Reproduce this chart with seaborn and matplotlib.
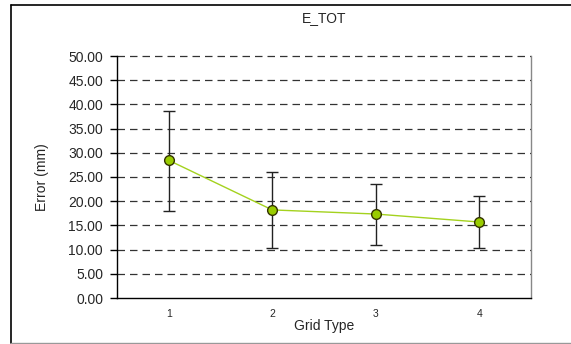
import matplotlib
matplotlib.use("Agg")
import matplotlib.pyplot as plt
from matplotlib.lines import Line2D
import seaborn as sns
import pandas as pd

grid_type = [1, 2, 3, 4]
error_mean = [28.45, 18.2, 17.35, 15.7]
error_upper = [38.7, 26.0, 23.55, 21.0]
error_lower = [18.0, 10.3, 10.95, 10.3]
y_ticks = [0, 5, 10, 15, 20, 25, 30, 35, 40, 45, 50]

df = pd.DataFrame({"Grid Type": grid_type, "Error": error_mean})
yerr = [[m - l for m, l in zip(error_mean, error_lower)],
        [u - m for m, u in zip(error_mean, error_upper)]]

sns.set_theme(style="white")
plt.rcParams['font.family'] = ['Liberation Sans', 'DejaVu Sans']

W, H = 571, 344
fig = plt.figure(figsize=(W / 100, H / 100), dpi=100)
ax = fig.add_axes([117 / W, 1 - 298 / H, (531 - 117) / W, (298 - 56) / H])

for y in y_ticks[1:]:
    ax.axhline(y, color="#333333", lw=0.9, ls=(0, (6, 4)), zorder=1, clip_on=False)

ax.errorbar(df["Grid Type"], df["Error"], yerr=yerr, fmt="none",
            ecolor="#222222", elinewidth=1, capsize=4, capthick=1, zorder=2)
sns.lineplot(data=df, x="Grid Type", y="Error", ax=ax, color="#A4D21E",
             lw=1, marker="o", markersize=7, markerfacecolor="#99CC00",
             markeredgecolor="#333300", markeredgewidth=1, zorder=3)

ax.set_xlim(0.5, 4.5)
ax.set_ylim(0, 50)
ax.set_yticks(y_ticks)
ax.set_yticklabels([f"{v:.2f}" for v in y_ticks], fontsize=10)
ax.set_xticks(grid_type)
ax.set_xticklabels([str(g) for g in grid_type], fontsize=7.5)
ax.set_xticks([1.5, 2.5, 3.5], minor=True)
ax.tick_params(axis="x", which="major", length=0, pad=8)
ax.tick_params(axis="x", which="minor", direction="in", length=4, width=1, color="black")
ax.tick_params(axis="y", direction="out", length=5, width=1, color="black", left=True, pad=5)

for s in ["left", "bottom"]:
    ax.spines[s].set_color("black")
    ax.spines[s].set_linewidth(1)
ax.spines["right"].set_color("#888888")
ax.spines["right"].set_linewidth(1)
ax.spines["top"].set_visible(False)

ax.set_xlabel("Grid Type", fontsize=10, labelpad=0)
ax.set_ylabel("Error (mm)", fontsize=10, labelpad=14)
fig.text(324 / W, 1 - 18 / H, "E_TOT", ha="center", va="center", fontsize=10)

fig.add_artist(Line2D([11 / W, 11 / W], [1 - 343 / H, 1 - 5 / H], color="black", lw=1.2, transform=fig.transFigure))
fig.add_artist(Line2D([11 / W, 1], [1 - 5 / H, 1 - 5 / H], color="black", lw=1.2, transform=fig.transFigure))
fig.add_artist(Line2D([11 / W, 1], [1 - 343 / H, 1 - 343 / H], color="#999999", lw=1, transform=fig.transFigure))

fig.savefig("out.png", dpi=100)
